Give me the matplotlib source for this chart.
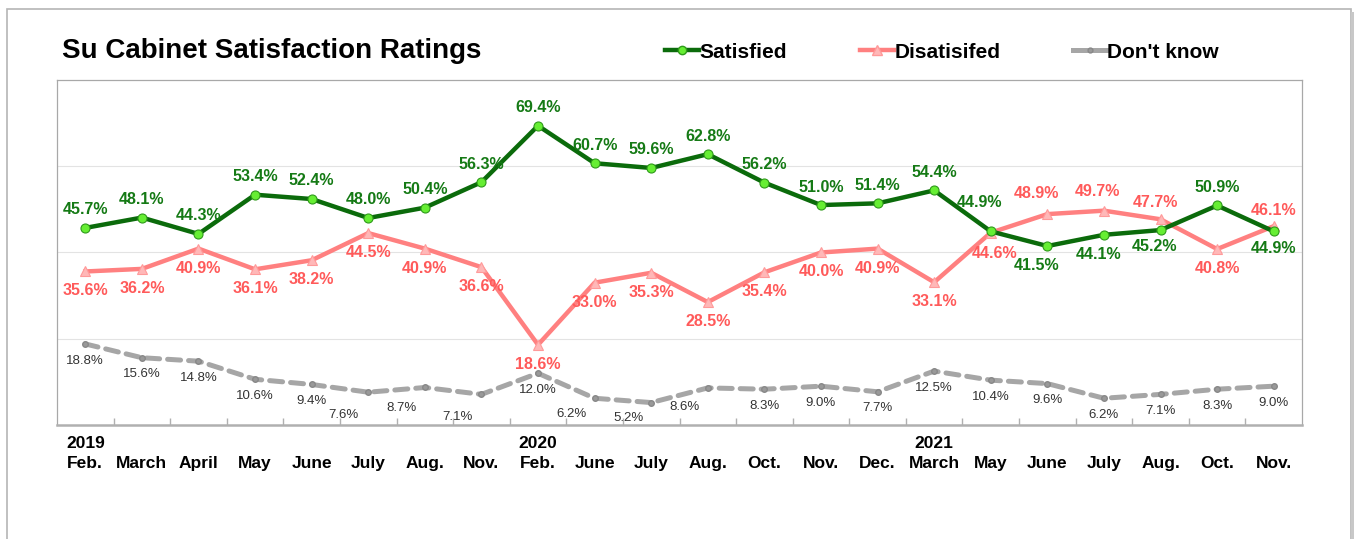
import matplotlib.pyplot as plt
from matplotlib.patches import Rectangle
from matplotlib.lines import Line2D

plt.rcParams['font.family'] = ['Liberation Sans', 'DejaVu Sans']

# data
months = ['Feb.', 'March', 'April', 'May', 'June', 'July', 'Aug.', 'Nov.',
          'Feb.', 'June', 'July', 'Aug.', 'Oct.', 'Nov.', 'Dec.',
          'March', 'May', 'June', 'July', 'Aug.', 'Oct.', 'Nov.']
years = {0: '2019', 8: '2020', 15: '2021'}

satisfied = [45.7, 48.1, 44.3, 53.4, 52.4, 48.0, 50.4, 56.3, 69.4, 60.7, 59.6,
             62.8, 56.2, 51.0, 51.4, 54.4, 44.9, 41.5, 44.1, 45.2, 50.9, 44.9]
dissatisfied = [35.6, 36.2, 40.9, 36.1, 38.2, 44.5, 40.9, 36.6, 18.6, 33.0, 35.3,
                28.5, 35.4, 40.0, 40.9, 33.1, 44.6, 48.9, 49.7, 47.7, 40.8, 46.1]
dont_know = [18.8, 15.6, 14.8, 10.6, 9.4, 7.6, 8.7, 7.1, 12.0, 6.2, 5.2,
             8.6, 8.3, 9.0, 7.7, 12.5, 10.4, 9.6, 6.2, 7.1, 8.3, 9.0]

x = list(range(len(months)))

# label offsets in points (dx, dy)
sat_off = [(0, 13)] * 22
sat_off[16] = (-8, 21)
sat_off[17] = (-8, -14)
sat_off[18] = (-4, -14)
sat_off[19] = (-4, -12)
sat_off[21] = (0, -12)

dis_off = [(0, -14)] * 22
dis_off[16] = (3, -15)
dis_off[17] = (-8, 15)
dis_off[18] = (-5, 14)
dis_off[19] = (-4, 12)
dis_off[21] = (0, 11)

dk_off = [(0, -12)] * 22
dk_off[5] = (-18, -16.5)
dk_off[6] = (-17, -14.5)
dk_off[7] = (-17, -16)
dk_off[9] = (-17, -11.5)
dk_off[10] = (-16, -11)
dk_off[11] = (-17, -14)

GREEN = '#0b6b0b'
PINK = '#ff8080'
PINK_TXT = '#ff5a5a'
GRAY = '#a6a6a6'

fig = plt.figure(figsize=(13.56, 5.39), dpi=100)
ax = fig.add_axes([57/1356, 1-425/539, 1245/1356, 345/539])

ax.plot(x, satisfied, color=GREEN, lw=3.2, marker='o', ms=6.5,
        mfc='#66ee33', mec='#2e9a1a', mew=0.8, zorder=4)
ax.plot(x, dissatisfied, color=PINK, lw=3.2, marker='^', ms=7,
        mfc='#ffb8b8', mec='#ff9a9a', mew=0.8, zorder=3)
ax.plot(x, dont_know, color=GRAY, lw=3.6, ls=(0, (2.6, 1.6)),
        dash_capstyle='round', marker='o', ms=4, mfc='#999999', mec='#888888',
        zorder=2)

for i in x:
    ax.annotate(f'{satisfied[i]:.1f}%', (i, satisfied[i]), xytext=sat_off[i],
                textcoords='offset points', ha='center', va='center',
                fontsize=11.5, fontweight='bold', color='#157a15', zorder=6)
    ax.annotate(f'{dissatisfied[i]:.1f}%', (i, dissatisfied[i]), xytext=dis_off[i],
                textcoords='offset points', ha='center', va='center',
                fontsize=11.5, fontweight='bold', color=PINK_TXT, zorder=6)
    ax.annotate(f'{dont_know[i]:.1f}%', (i, dont_know[i]), xytext=dk_off[i],
                textcoords='offset points', ha='center', va='center',
                fontsize=9.5, color='#333333', zorder=6)

ax.set_xlim(-0.5, len(months) - 0.5)
ax.set_ylim(0, 80)
ax.set_yticks([20, 40, 60])
ax.set_yticklabels([])
ax.tick_params(axis='y', length=0)
ax.grid(axis='y', color='#e3e3e3', lw=0.8)
ax.set_axisbelow(True)

ax.set_xticks(x)
ax.set_xticklabels(months, fontsize=12.5, fontweight='bold')
ax.tick_params(axis='x', which='major', length=0, pad=22.5)
ax.set_xticks([i + 0.5 for i in x[:-1]], minor=True)
ax.tick_params(axis='x', which='minor', direction='in', length=5,
               color='#b0b0b0', width=1)

for i, yr in years.items():
    ax.annotate(yr, (i, 0), xycoords=ax.get_xaxis_transform(), xytext=(0, -8),
                textcoords='offset points', ha='center', va='top',
                fontsize=12.5, fontweight='bold')

for s in ['left', 'top', 'right']:
    ax.spines[s].set_color('#a8a8a8')
    ax.spines[s].set_linewidth(0.9)
ax.spines['bottom'].set_color('#b0b0b0')
ax.spines['bottom'].set_linewidth(1.8)

fig.text(62/1356, 1-51/539, 'Su Cabinet Satisfaction Ratings', fontsize=20,
         fontweight='bold', va='center', ha='left')

handles = [
    Line2D([], [], color=GREEN, lw=3.2, marker='o', ms=6, mfc='#66ee33', mec='#2e9a1a'),
    Line2D([], [], color=PINK, lw=3.2, marker='^', ms=6.5, mfc='#ffb8b8', mec='#ff9a9a'),
    Line2D([], [], color=GRAY, lw=3.6, marker='o', ms=3.5, mfc='#999999', mec='#888888'),
]
fig.legend(handles, ['Satisfied', 'Disatisifed', "Don't know"], loc='center left',
           bbox_to_anchor=(665/1356, 1-52/539), ncol=3, frameon=False,
           handlelength=1.65, handletextpad=0.0, columnspacing=3.5,
           prop={'size': 15, 'weight': 'bold'}, borderaxespad=0, borderpad=0)

# outer frame with a little shadow on the right
fig.patches.append(Rectangle((7/1356, -0.01), 1344/1356, 1-9/539 + 0.01,
                             transform=fig.transFigure, fill=False,
                             edgecolor='#b5b5b5', lw=1.2, zorder=0))
fig.patches.append(Rectangle((1351/1356, -0.01), 3/1356, 1-12/539 + 0.01,
                             transform=fig.transFigure, facecolor='#c8c8c8',
                             edgecolor='none', zorder=0))

fig.savefig('out.png', dpi=100)
